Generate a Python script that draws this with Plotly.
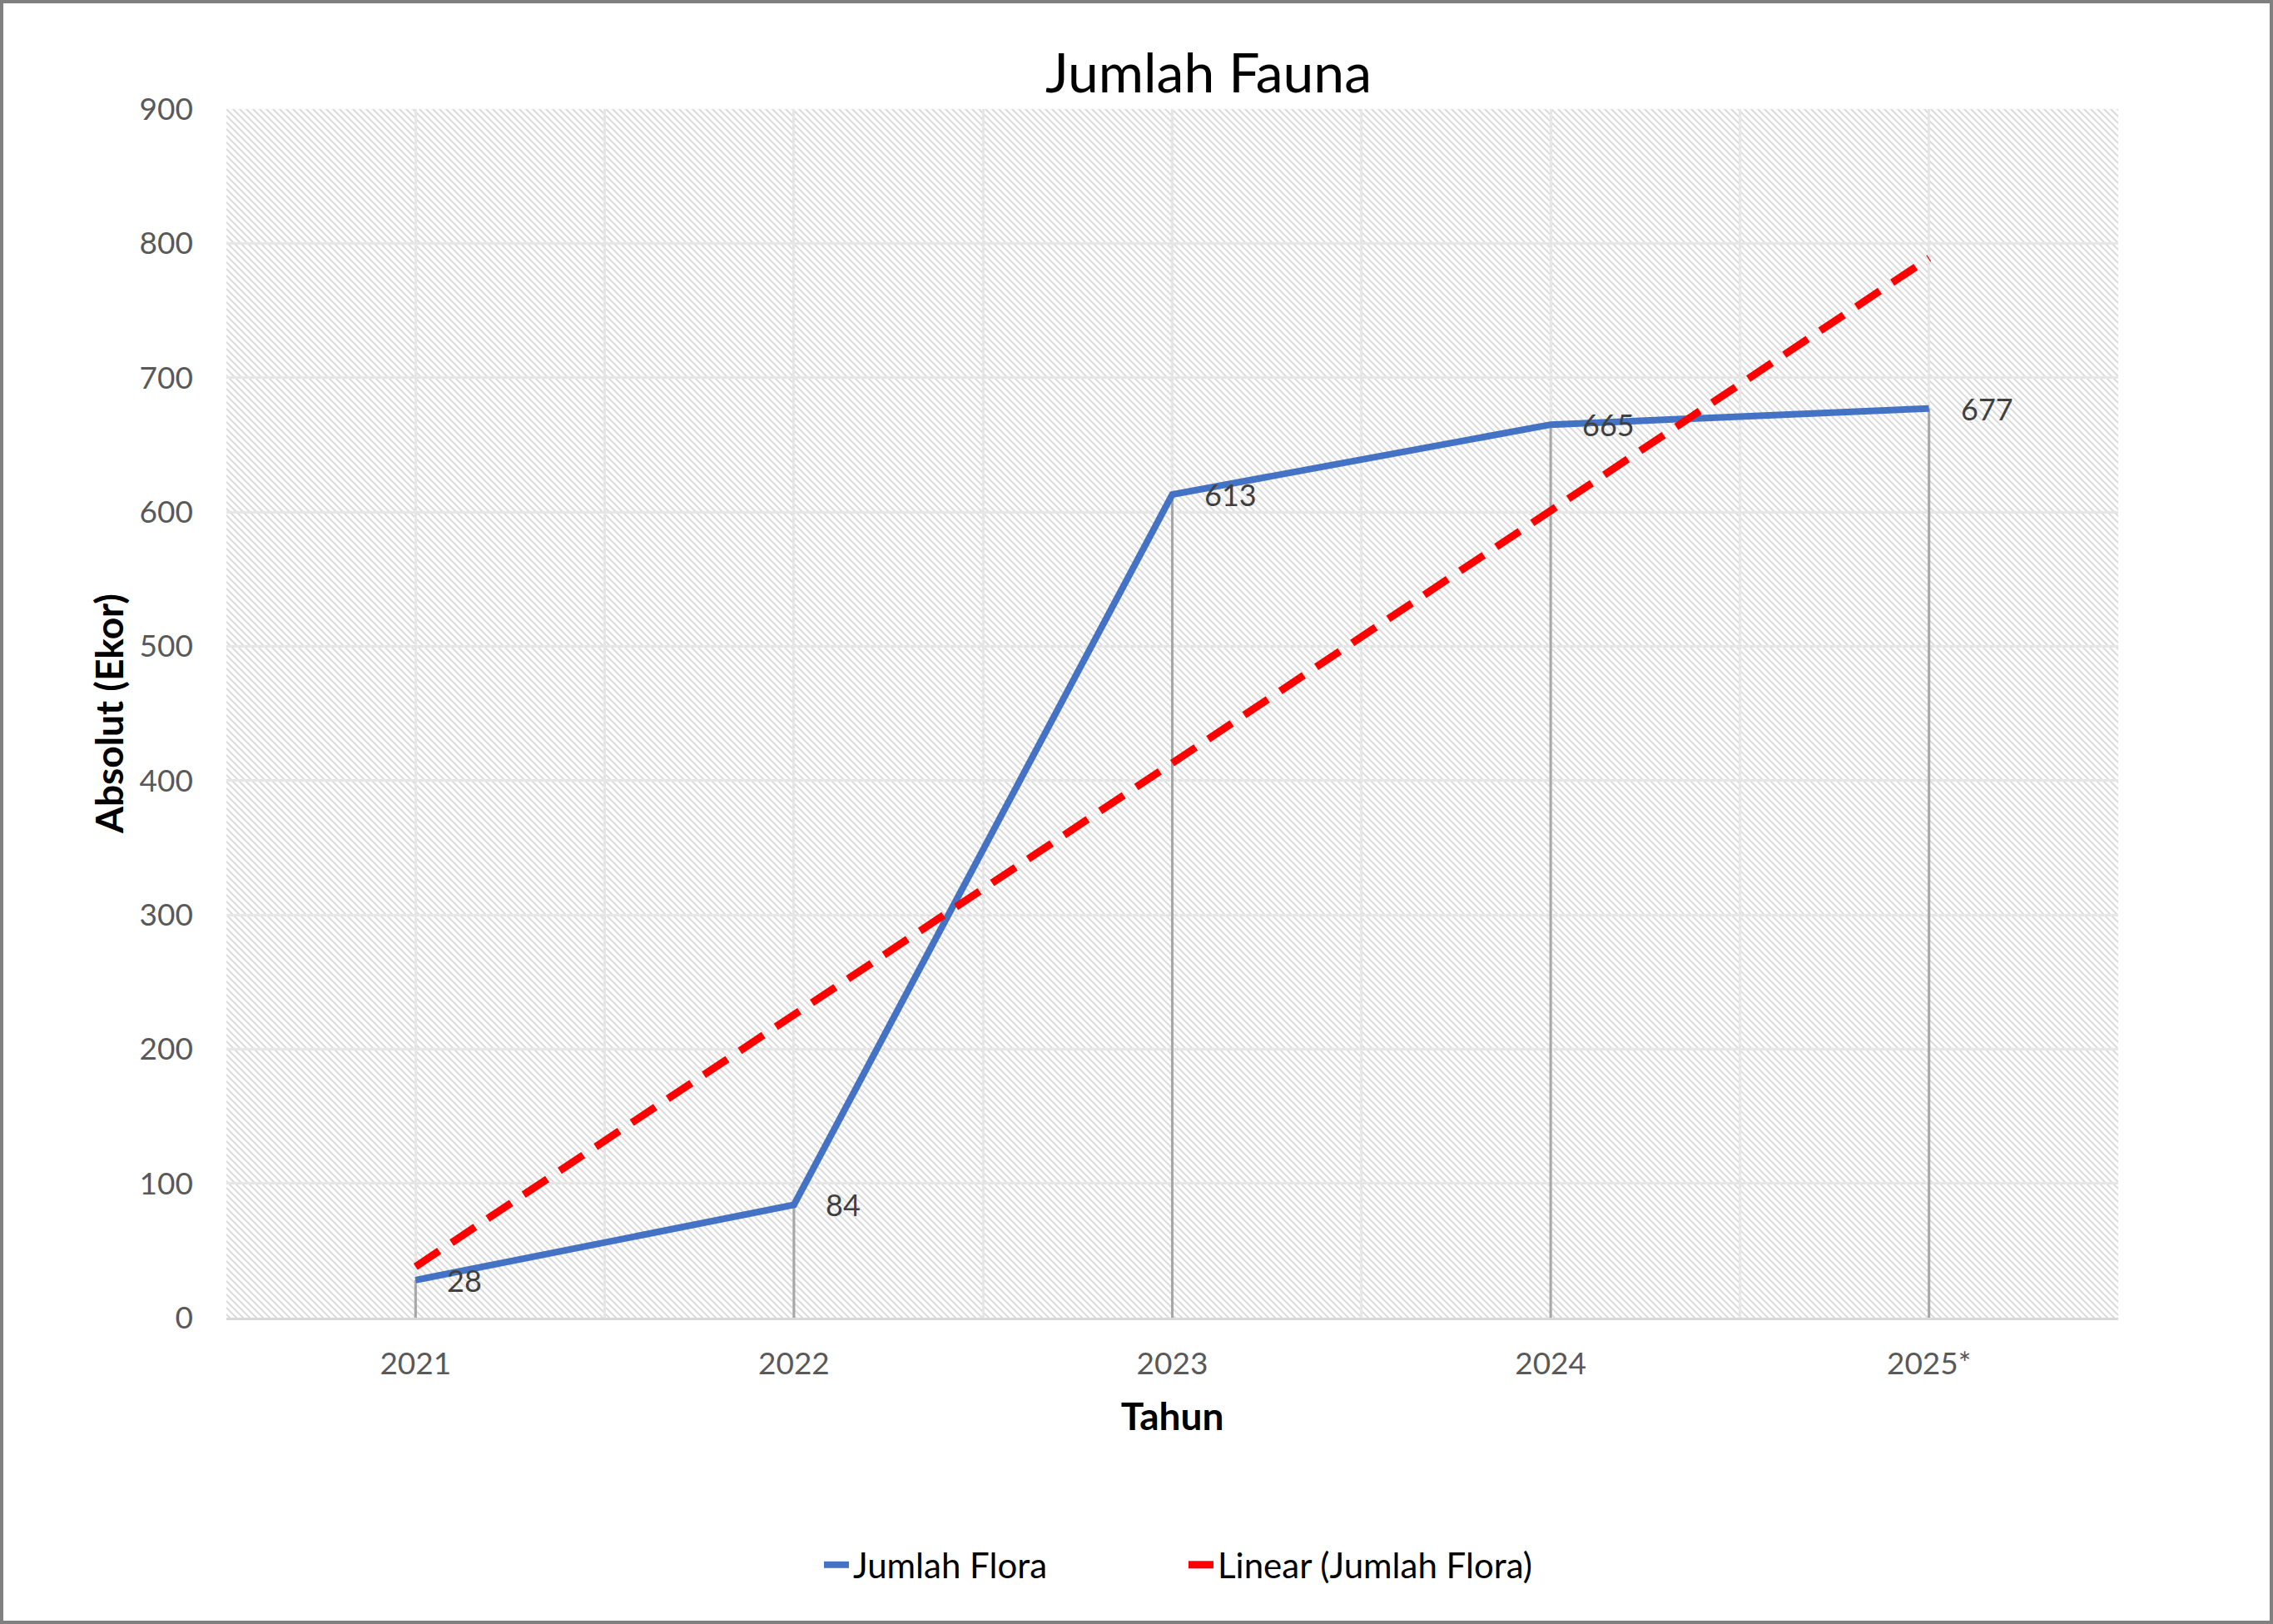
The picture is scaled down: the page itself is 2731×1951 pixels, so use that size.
import base64
import plotly.graph_objects as go

# ---- data ----
years = ["2021", "2022", "2023", "2024", "2025*"]
jumlah_flora = [28, 84, 613, 665, 677]
linear_trend = [38, 225, 413, 601, 789]
y_tick_values = [0, 100, 200, 300, 400, 500, 600, 700, 800, 900]

# ---- layout geometry ----
W, H = 2731, 1951
ML, MR, MT, MB = 272, 186, 131, 368
PW, PH = W - ML - MR, H - MT - MB

FONT = "Lato, 'Open Sans', sans-serif"
x_idx = list(range(len(years)))

# hatched plot-area background
p = 8
svg = (
    f'<svg xmlns="http://www.w3.org/2000/svg" width="{PW}" height="{PH}">'
    f'<defs><pattern id="h" patternUnits="userSpaceOnUse" width="{p}" height="{p}">'
    f'<path d="M-1,-1 L{p+1},{p+1} M-1,{p-1} L1,{p+1} M{p-1},-1 L{p+1},1" '
    f'stroke="#dcdcdc" stroke-width="2.2"/></pattern></defs>'
    f'<rect width="100%" height="100%" fill="#ffffff"/>'
    f'<rect width="100%" height="100%" fill="url(#h)"/></svg>'
)
hatch_src = "data:image/svg+xml;base64," + base64.b64encode(svg.encode()).decode()

fig = go.Figure()

fig.add_trace(go.Scatter(
    x=x_idx, y=jumlah_flora, name="Jumlah Flora",
    mode="lines+markers",
    line=dict(color="#4472C4", width=8),
    marker=dict(size=1, color="rgba(0,0,0,0)"),
    error_y=dict(type="data", symmetric=False,
                 array=[0] * len(jumlah_flora), arrayminus=jumlah_flora,
                 color="#a6a6a6", thickness=3, width=0),
))

fig.add_trace(go.Scatter(
    x=x_idx, y=linear_trend, name="Linear (Jumlah Flora)",
    mode="lines",
    line=dict(color="#FF0000", width=9, dash="34px,18px"),
))

# data labels, placed through the axes at each data point
label_annotations = [
    dict(x=xi, y=v, xref="x", yref="y", text=str(v), showarrow=False,
         xanchor="left", yanchor="middle", xshift=36, yshift=0,
         font=dict(family=FONT, size=36, color="#404040"))
    for xi, v in zip(x_idx, jumlah_flora)
]

fig.update_layout(
    width=W, height=H,
    margin=dict(l=ML, r=MR, t=MT, b=MB),
    paper_bgcolor="white",
    plot_bgcolor="white",
    font=dict(family=FONT, color="#595959"),
    title=dict(text="Jumlah Fauna", x=1452 / W, xanchor="center",
               y=1 - 88 / H, yanchor="middle",
               font=dict(family=FONT, size=66, color="#000000")),
    showlegend=True,
    legend=dict(orientation="h", x=(1423 - ML) / PW, xanchor="center",
                y=-(1880 - (H - MB)) / PH, yanchor="middle",
                entrywidth=393, entrywidthmode="pixels",
                font=dict(family=FONT, size=42, color="#000000"),
                bgcolor="rgba(0,0,0,0)"),
    annotations=label_annotations,
    images=[dict(source=hatch_src, xref="paper", yref="paper",
                 x=0, y=1, sizex=1, sizey=1, sizing="stretch",
                 xanchor="left", yanchor="top", layer="below")],
    shapes=[dict(type="rect", xref="paper", yref="paper",
                 x0=(-ML + 2) / PW, x1=1 + (MR - 2) / PW,
                 y0=(-MB + 2) / PH, y1=1 + (MT - 2) / PH,
                 line=dict(color="#808080", width=4),
                 fillcolor="rgba(0,0,0,0)", layer="below")],
)

fig.update_xaxes(
    type="linear", range=[-0.5, len(years) - 0.5],
    tickmode="array", tickvals=x_idx, ticktext=years,
    ticks="", ticklabelstandoff=21,
    tickfont=dict(family=FONT, size=37, color="#595959"),
    showgrid=True, gridcolor="#e6e6e6", gridwidth=3,
    minor=dict(tickmode="linear", tick0=-0.5, dtick=0.5, showgrid=True,
               gridcolor="#e6e6e6", gridwidth=3),
    showline=True, linecolor="#d9d9d9", linewidth=3,
    zeroline=False,
    title=dict(text="<b>Tahun</b>", standoff=28,
               font=dict(family=FONT, size=46, color="#000000")),
)

fig.update_yaxes(
    range=[0, 900], tickmode="array", tickvals=y_tick_values,
    ticks="", ticklabelstandoff=39,
    tickfont=dict(family=FONT, size=37, color="#595959"),
    showgrid=True, gridcolor="#e6e6e6", gridwidth=3,
    showline=False, zeroline=False,
    title=dict(text="<b>Absolut (Ekor)</b>", standoff=4,
               font=dict(family=FONT, size=46, color="#000000")),
)

fig.write_html("out.html", config={"displayModeBar": False},
               post_script="document.body.style.margin='0';")
